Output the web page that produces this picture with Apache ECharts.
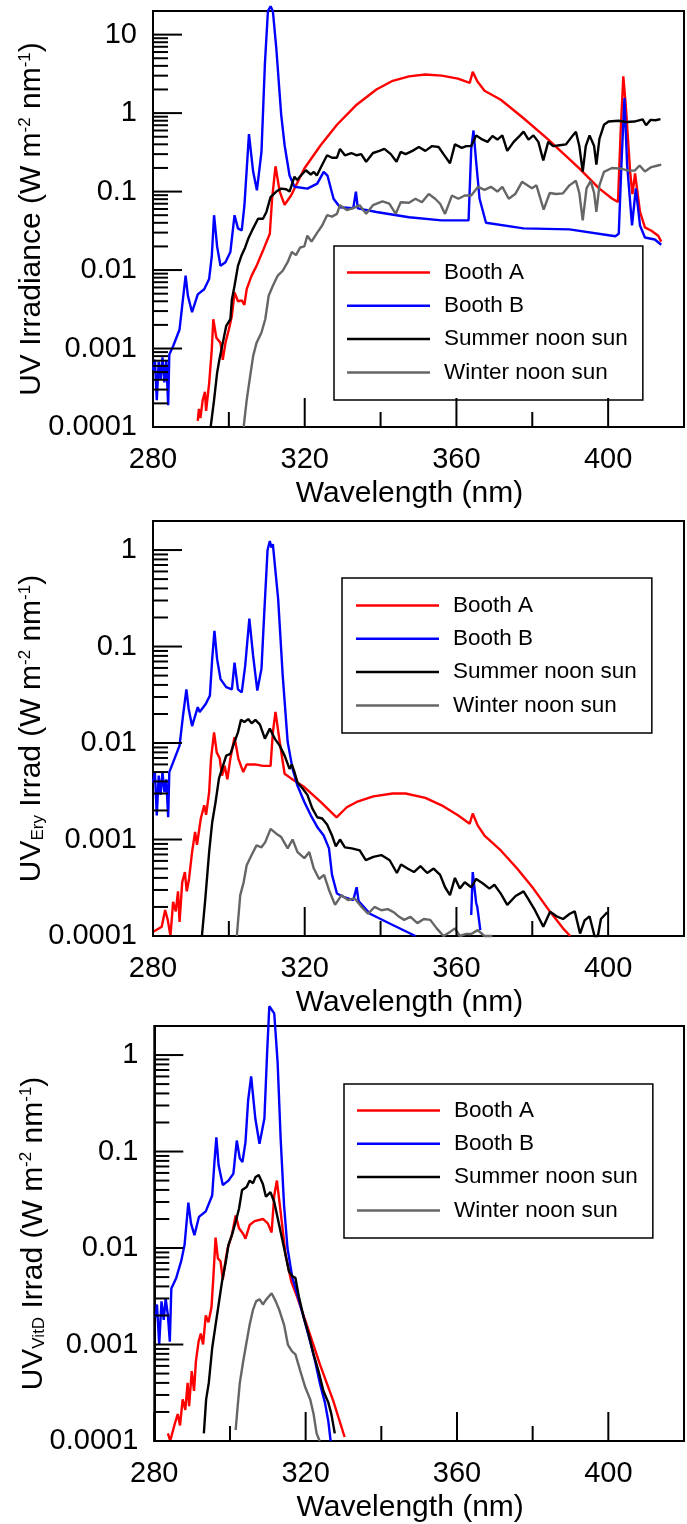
<!DOCTYPE html>
<html>
<head>
<meta charset="utf-8">
<script src="https://cdn.jsdelivr.net/npm/echarts@6/dist/echarts.min.js"></script>
<style>html,body{margin:0;padding:0;background:#fff}#c{width:687px;height:1524px}</style>
</head>
<body>
<div id="c"></div>
<script>
// ---------- data: [wavelength nm, irradiance] ----------
const seriesNames = ['Booth A', 'Booth B', 'Summer noon sun', 'Winter noon sun'];
const xMajorTicks = [280, 320, 360, 400];
const xMinorTicks = [300, 340, 380];
const yDecades = [-4, -3, -2, -1, 0, 1];

// Panel 1: UV irradiance
const p1BoothA = [[291.8,1.2e-4],[292.1,1.7e-4],[292.5,1.3e-4],[293.1,2.2e-4],[293.7,2.8e-4],[294.0,1.6e-4],[294.8,3.6e-4],[295.5,9.7e-4],[295.9,2.36e-3],[296.7,1.37e-3],[297.8,1.18e-3],[298.4,7.2e-4],[299.1,1.18e-3],[300.0,1.75e-3],[300.8,2.6e-3],[301.5,5.2e-3],[302.4,4.0e-3],[303.4,4.1e-3],[304.1,3.6e-3],[304.7,5.7e-3],[306.0,8.5e-3],[307.3,0.0113],[309.0,0.0177],[310.8,0.029],[311.4,0.081],[312.3,0.21],[313.4,0.10],[314.7,0.068],[316.4,0.089],[319.9,0.197],[324.2,0.39],[328.5,0.71],[333.7,1.28],[338.9,2.0],[343.2,2.58],[347.5,2.94],[351.8,3.1],[356.1,3.0],[360.4,2.75],[363.5,2.43],[364.3,3.35],[365.5,2.54],[367.4,1.93],[371.7,1.48],[377.7,0.86],[383.8,0.48],[392.4,0.197],[397.6,0.11],[401.1,0.081],[402.6,0.074],[403.3,0.59],[404.0,2.94],[404.7,1.16],[405.8,0.178],[406.4,0.093],[407.1,0.17],[408.4,0.055],[409.7,0.035],[411.4,0.0317],[413.2,0.0274],[414.0,0.023]];
const p1BoothB = [[280,5.3e-4],[280.5,7.2e-4],[281,2.2e-4],[281.5,6.8e-4],[282,4.0e-4],[282.5,7.7e-4],[283,3.7e-4],[283.5,7e-4],[284,1.9e-4],[284.3,8.4e-4],[285.3,1.07e-3],[287,1.75e-3],[287.9,4.3e-3],[288.6,8.5e-3],[289.2,4.7e-3],[290.3,2.9e-3],[291.8,4.9e-3],[292.1,4.7e-3],[293.5,5.7e-3],[294.8,7.7e-3],[295.5,0.015],[296.1,0.050],[296.9,0.020],[297.8,0.0113],[299.1,0.0126],[300.4,0.017],[301.5,0.050],[302.4,0.034],[303.4,0.032],[304.1,0.066],[305.3,0.54],[306.4,0.18],[307.4,0.104],[308.6,0.32],[309.5,4.2],[310.3,20],[311,23],[311.6,20],[312.5,6.8],[313.8,0.95],[314.7,0.39],[316,0.16],[317.3,0.115],[320.7,0.109],[323.3,0.126],[325,0.178],[326,0.16],[327.6,0.081],[329.3,0.063],[332.8,0.0615],[333.5,0.10],[334,0.061],[338.9,0.055],[347.5,0.047],[356.1,0.043],[363.2,0.043],[363.9,0.35],[364.5,0.60],[365.2,0.24],[366.1,0.081],[367.8,0.040],[377.7,0.034],[389.8,0.033],[401.9,0.027],[402.8,0.029],[403.5,0.22],[404.3,1.55],[405.0,0.22],[406.3,0.037],[407.3,0.11],[408.4,0.037],[409.7,0.026],[412.3,0.0245],[414.0,0.021]];
const p1Summer = [[295.2,1e-4],[296.1,2.2e-4],[296.9,4.9e-4],[297.5,7.2e-4],[298.4,1.18e-3],[299.3,1.94e-3],[300.4,2.36e-3],[300.8,4.2e-3],[301.5,6.3e-3],[302.4,0.0113],[303.3,0.0152],[304.3,0.0194],[305.1,0.025],[306.4,0.034],[307.7,0.045],[309,0.045],[309.9,0.055],[311,0.085],[312.5,0.10],[313.8,0.109],[315.1,0.107],[316,0.10],[317.3,0.155],[318,0.14],[319,0.16],[320.3,0.187],[321.6,0.165],[322.4,0.178],[323.2,0.16],[324.6,0.22],[325.9,0.29],[327.2,0.27],[328.5,0.27],[329.3,0.35],[330.6,0.29],[332.3,0.31],[333.7,0.29],[334.9,0.30],[336.2,0.24],[338,0.31],[339.7,0.33],[341,0.35],[342.7,0.30],[344.2,0.24],[345.3,0.32],[346.6,0.30],[348.4,0.33],[350.1,0.37],[351.8,0.33],[353.6,0.38],[355.3,0.37],[356.6,0.30],[358.3,0.23],[359.6,0.40],[361.4,0.36],[362.6,0.38],[363.9,0.38],[365.2,0.52],[366.5,0.47],[368.2,0.43],[369.5,0.51],[370.8,0.46],[372.1,0.52],[373.4,0.33],[375.1,0.43],[376.8,0.52],[377.7,0.58],[379.0,0.46],[380.3,0.52],[381.6,0.43],[382.9,0.25],[384.2,0.43],[385.5,0.38],[387.2,0.39],[388.9,0.40],[390.7,0.52],[391.5,0.58],[392.4,0.38],[393.3,0.18],[394.1,0.38],[395.1,0.52],[396.3,0.38],[396.9,0.22],[397.7,0.47],[398.9,0.71],[400.1,0.78],[402.7,0.80],[404.8,0.77],[406.9,0.78],[409.1,0.83],[410.0,0.70],[411.2,0.82],[412.5,0.81],[413.8,0.84]];
const p1Winter = [[303.9,1e-4],[304.7,2.2e-4],[305.6,4.4e-4],[306.4,8e-4],[307.3,1.18e-3],[308.6,1.6e-3],[309.6,2.36e-3],[310.5,4.7e-3],[311.6,6.3e-3],[312.9,8.5e-3],[314.2,9.8e-3],[315.5,0.0126],[316.6,0.017],[317.7,0.0155],[318.8,0.0194],[319.9,0.020],[320.7,0.0274],[321.8,0.023],[323.3,0.030],[324.6,0.037],[325.9,0.05],[327.2,0.048],[328.5,0.052],[329.3,0.067],[331.1,0.058],[332.8,0.0615],[334.5,0.067],[336.2,0.052],[338,0.067],[340.5,0.075],[342.3,0.07],[344,0.052],[345.3,0.073],[347.5,0.072],[349.2,0.081],[350.9,0.073],[352.7,0.093],[354.4,0.081],[355.7,0.07],[357,0.052],[358.8,0.089],[360.5,0.081],[362.2,0.089],[363.9,0.089],[365.7,0.115],[367.4,0.105],[369.1,0.115],[370.8,0.10],[372.1,0.115],[373.8,0.081],[375.5,0.093],[377.3,0.133],[379.9,0.11],[381.1,0.12],[383.0,0.059],[384.6,0.096],[386.3,0.093],[388.1,0.095],[389.8,0.12],[391.5,0.137],[392.4,0.096],[393.3,0.043],[394.3,0.11],[395.4,0.137],[396.3,0.096],[396.9,0.055],[397.7,0.12],[398.9,0.178],[401.0,0.20],[403.6,0.195],[405.3,0.185],[407.0,0.185],[408.3,0.215],[409.7,0.18],[411.4,0.205],[413.1,0.215],[414.0,0.22]];

// Panel 2: erythemally weighted
const p2BoothA = [[280,1.1e-4],[282.3,1.25e-4],[283.2,1.86e-4],[283.9,1.46e-4],[284.6,1.0e-4],[285.3,2.26e-4],[286,1.8e-4],[286.6,2.9e-4],[287.0,1.4e-4],[287.7,3.6e-4],[288.4,4.6e-4],[288.9,2.9e-4],[289.5,3.9e-4],[290.3,7.4e-4],[291.1,1.2e-3],[291.6,8.8e-4],[292.6,1.65e-3],[293.5,2.26e-3],[294.0,1.8e-3],[294.8,3.1e-3],[295.3,6.9e-3],[296.1,0.0129],[296.8,8.0e-3],[297.6,6.9e-3],[298.2,4.6e-3],[298.9,5.8e-3],[299.6,4.2e-3],[300.4,6.9e-3],[301.5,0.0115],[302.5,6.9e-3],[303.8,5.0e-3],[304.7,6.0e-3],[306.9,6.0e-3],[309.0,5.8e-3],[311.0,5.8e-3],[311.6,0.0129],[312.3,0.021],[313.4,0.0103],[314.7,4.8e-3],[316.4,4.3e-3],[319.9,3.5e-3],[324.2,2.45e-3],[328.4,1.7e-3],[331.1,2.16e-3],[333.7,2.45e-3],[338.1,2.8e-3],[343.2,3.0e-3],[346.6,3.0e-3],[351.8,2.7e-3],[356.1,2.26e-3],[360.4,1.78e-3],[363.5,1.46e-3],[364.3,1.86e-3],[365.6,1.4e-3],[367.4,1.1e-3],[371.7,7.7e-4],[376.0,5.0e-4],[380.3,3.1e-4],[384.7,1.78e-4],[388.1,1.2e-4],[390.0,1e-4]];
const p2BoothB = [[280,3.9e-3],[280.5,5.0e-3],[281,1.78e-3],[281.5,4.6e-3],[282,2.9e-3],[282.5,5.0e-3],[283,3.1e-3],[283.5,4.2e-3],[284,1.7e-3],[284.3,5e-3],[285.3,6.3e-3],[287,9.4e-3],[287.9,0.019],[288.8,0.036],[289.4,0.0227],[290.3,0.015],[291.8,0.0235],[292.3,0.021],[293.9,0.0254],[295,0.031],[295.6,0.074],[296.2,0.145],[296.9,0.074],[297.8,0.046],[299.3,0.038],[300.8,0.036],[301.5,0.068],[302.4,0.036],[303.4,0.0335],[304.3,0.063],[305.4,0.195],[306.4,0.080],[307.5,0.035],[308.6,0.059],[309.3,0.21],[310.2,1.0],[310.8,1.24],[311.2,1.06],[311.6,1.15],[313.0,0.31],[314.2,0.050],[315.5,0.0103],[316.8,5.4e-3],[318.1,3.6e-3],[319.9,2.45e-3],[321.6,1.78e-3],[323.3,1.35e-3],[325,1.1e-3],[326.4,8.1e-4],[327.2,4.3e-4],[328.5,2.76e-4],[330.2,2.55e-4],[332.8,2.36e-4],[333.7,3.2e-4],[334.2,2.3e-4],[337.2,1.7e-4],[343.2,1.3e-4],[349.2,1e-4],[356,null],[363.9,1.65e-4],[364.3,4.6e-4],[364.7,4.5e-4],[365.2,2.2e-4],[365.5,2e-4],[366.3,1.15e-4]];
const p2Summer = [[292.9,1e-4],[293.8,2.45e-4],[294.8,7.4e-4],[295.6,1.5e-3],[296.5,2.45e-3],[297.4,4.3e-3],[298.2,5.4e-3],[299.3,7.4e-3],[300.4,7.7e-3],[301.5,0.0103],[302.4,0.0129],[303.2,0.0174],[304.1,0.0165],[305.1,0.0177],[306.0,0.016],[307.0,0.0174],[308.2,0.0155],[309.5,0.0111],[310.8,0.0141],[312.1,0.0111],[313.4,9.4e-3],[314.7,7.4e-3],[316.0,5.4e-3],[316.6,6.0e-3],[317.3,5.0e-3],[318.1,3.9e-3],[319.4,3.4e-3],[320.7,2.9e-3],[322.0,2.1e-3],[323.3,1.7e-3],[324.6,1.65e-3],[325.9,1.43e-3],[327.2,1.1e-3],[328.2,8.5e-4],[329.3,1.0e-3],[330.6,8.3e-4],[332.4,8.1e-4],[334.5,7.7e-4],[336.1,6.1e-4],[338.1,6.6e-4],[340.2,6.9e-4],[342.4,6.1e-4],[344.3,4.5e-4],[345.4,5.5e-4],[347.1,5.0e-4],[348.8,4.6e-4],[350.5,5.3e-4],[352.3,4.5e-4],[354.0,5.0e-4],[355.7,4.3e-4],[357.0,3.2e-4],[358.3,2.65e-4],[359.6,4.0e-4],[360.9,3.1e-4],[362.2,3.6e-4],[363.9,3.2e-4],[365.2,3.9e-4],[367.0,3.5e-4],[368.7,3.1e-4],[370.0,3.4e-4],[371.7,2.75e-4],[373.4,2.1e-4],[375.6,2.6e-4],[377.7,2.9e-4],[379.0,2.4e-4],[380.7,1.85e-4],[382.9,1.25e-4],[384.7,1.78e-4],[386.4,1.6e-4],[388.1,1.5e-4],[389.9,1.7e-4],[391.2,1.8e-4],[392.6,1.06e-4],[393.8,1.45e-4],[395.1,1.6e-4],[396.4,1.0e-4],[397.3,1.0e-4],[398.1,1.5e-4],[399.4,1.7e-4],[399.8,1.75e-4]];
const p2Winter = [[302.1,1e-4],[303.0,2.65e-4],[303.9,3.6e-4],[304.7,5.4e-4],[306.0,6.9e-4],[307.3,8.7e-4],[308.6,8.3e-4],[309.6,9.4e-4],[311.0,1.29e-3],[312.5,1.15e-3],[313.8,1.06e-3],[315.5,8.1e-4],[316.8,1.0e-3],[318.1,7.4e-4],[319.9,6.4e-4],[321.2,7.4e-4],[322.4,5.0e-4],[323.8,3.9e-4],[325.1,4.3e-4],[326.4,3.0e-4],[328.0,2.1e-4],[329.7,2.65e-4],[331.4,2.36e-4],[333.2,2.45e-4],[335,2.0e-4],[336.7,1.7e-4],[338.4,2.0e-4],[340.2,1.85e-4],[341.9,1.9e-4],[343.6,1.75e-4],[344.9,1.58e-4],[346.2,1.47e-4],[347.9,1.58e-4],[349.7,1.36e-4],[351.4,1.5e-4],[353.1,1.47e-4],[354.8,1.2e-4],[356.6,1.0e-4],[358.3,1.1e-4],[359.6,1.2e-4],[360.9,1.0e-4],[362.6,1.05e-4],[363.9,1.05e-4],[365.6,1.15e-4],[367.4,1.0e-4],[369.5,1e-4]];

// Panel 3: vitamin-D weighted
const p3BoothA = [[283.6,1.2e-4],[284.2,1e-4],[285.4,1.5e-4],[286.2,1.9e-4],[286.8,1.45e-4],[287.5,2.7e-4],[288.2,2.1e-4],[288.8,4.0e-4],[289.2,2.3e-4],[289.9,5.3e-4],[290.5,3.3e-4],[291.0,6.7e-4],[291.7,1.07e-3],[292.3,1.3e-3],[292.9,1.0e-3],[293.6,2.0e-3],[294.3,1.7e-3],[295.1,2.4e-3],[295.6,4.9e-3],[296.2,0.0128],[296.8,7.8e-3],[297.5,7.3e-3],[298.1,4.7e-3],[298.8,7.3e-3],[299.4,0.01],[300.5,0.0136],[301.5,0.0218],[302.4,0.016],[303.5,0.014],[304.1,0.0125],[305.2,0.0173],[306.5,0.019],[308.7,0.02],[310.0,0.018],[311.0,0.0145],[311.7,0.035],[312.4,0.050],[313.4,0.0235],[314.7,8.5e-3],[316.2,4.5e-3],[317.7,3.15e-3],[320.3,1.6e-3],[323.8,6.2e-4],[327.3,2.6e-4],[330.3,1.1e-4]];
const p3BoothB = [[280.4,1.9e-3],[280.7,2.6e-3],[281.3,1e-3],[281.9,2.8e-3],[282.5,1.8e-3],[283,3.0e-3],[283.6,2.0e-3],[284.1,1.07e-3],[284.5,3.8e-3],[285.8,4.9e-3],[287.1,7.3e-3],[288.0,0.0108],[289.0,0.0295],[289.7,0.018],[290.6,0.0136],[291.8,0.021],[293.6,0.024],[295.3,0.035],[295.9,0.078],[296.4,0.14],[297,0.072],[298.1,0.045],[299.6,0.05],[300.9,0.059],[301.8,0.13],[302.6,0.085],[303.3,0.078],[304.1,0.125],[304.8,0.34],[305.6,0.60],[306.7,0.22],[307.8,0.12],[309.1,0.22],[309.8,1.02],[310.4,3.2],[310.8,3.3],[311.7,2.7],[312.6,0.83],[313.4,0.135],[314.3,0.0275],[315.2,0.01],[316.5,4.9e-3],[317.8,3.3e-3],[319.5,1.9e-3],[321.2,1.07e-3],[322.5,6.7e-4],[323.8,3.9e-4],[325.1,2.5e-4],[326,1.6e-4],[326.6,1e-4]];
const p3Summer = [[293.1,1.2e-4],[293.7,2.7e-4],[294.4,4.0e-4],[295.3,9.2e-4],[296.2,1.6e-3],[297.0,2.6e-3],[297.9,4.5e-3],[298.9,7.2e-3],[299.6,0.0108],[300.5,0.0136],[301.5,0.0186],[302.4,0.0257],[303.2,0.040],[304.4,0.043],[305.2,0.050],[306.1,0.047],[306.7,0.054],[307.6,0.057],[308.7,0.046],[309.5,0.034],[310.7,0.038],[311.7,0.030],[313.0,0.0173],[314.3,0.01],[315.6,5.7e-3],[316.5,5.1e-3],[317.3,4.9e-3],[318.2,3.15e-3],[319.5,1.9e-3],[320.8,1.27e-3],[322.1,7.9e-4],[323.4,5.3e-4],[324.7,3.3e-4],[326.0,2.5e-4],[326.8,1.9e-4],[327.7,1.2e-4]];
const p3Winter = [[301.5,1.3e-4],[302.0,2.2e-4],[302.6,4.0e-4],[303.5,6.7e-4],[304.4,1.07e-3],[305.2,1.6e-3],[306.1,2.3e-3],[306.9,2.8e-3],[307.8,2.95e-3],[308.7,2.6e-3],[309.5,2.9e-3],[311.0,3.4e-3],[312.1,2.8e-3],[313.0,2.3e-3],[314.3,1.6e-3],[315.3,1.0e-3],[316.4,8.5e-4],[317.3,7.9e-4],[318.6,5.3e-4],[319.9,3.6e-4],[321.2,2.7e-4],[322.1,1.9e-4],[322.9,1.2e-4],[323.7,1e-4]];

// ---------- layout / style ----------
const FONT = "'Liberation Sans', Arial, Helvetica, sans-serif";
const COLORS = ['#ff0000', '#0000ff', '#000000', '#666666'];
const panels = [
  { left: 153, top: 11, width: 540, height: 416, ymax: 20,
    yname: 'UV Irradiance (W m{sup|-2} nm{sup|-1})',
    data: [p1BoothA, p1BoothB, p1Summer, p1Winter],
    legend: { left: 334, top: 246, padding: [15, 15, 16, 13] } },
  { left: 153, top: 521, width: 540, height: 415, ymax: 2,
    yname: 'UV{sub|Ery} Irrad (W m{sup|-2} nm{sup|-1})',
    data: [p2BoothA, p2BoothB, p2Summer, p2Winter],
    legend: { left: 342, top: 578, padding: [16, 15, 16, 14] } },
  { left: 154.3, top: 1026, width: 540.4, height: 416, ymax: 2,
    yname: 'UV{sub|VitD} Irrad (W m{sup|-2} nm{sup|-1})',
    data: [p3BoothA, p3BoothB, p3Summer, p3Winter],
    legend: { left: 344, top: 1084, padding: [15, 15, 16, 13] } }
];

function isDecade(v) {
  const l = Math.log10(v);
  return Math.abs(l - Math.round(l)) < 1e-6;
}

const option = {
  animation: false,
  backgroundColor: '#fff',
  grid: [], xAxis: [], yAxis: [], series: [], legend: []
};

panels.forEach((p, i) => {
  option.grid.push({ left: p.left, top: p.top, width: p.width, height: p.height,
    show: true, borderColor: '#000', borderWidth: 2, containLabel: false });
  option.xAxis.push({
    type: 'value', gridIndex: i, min: 280, max: 420, interval: 40,
    axisLine: { show: true, onZero: false, lineStyle: { color: '#000', width: 2 } },
    axisTick: { show: false }, splitLine: { show: false },
    axisLabel: { fontSize: 29, fontFamily: FONT, color: '#000', margin: 18,
      formatter: v => (xMajorTicks.indexOf(Math.round(v)) >= 0 ? String(Math.round(v)) : '') },
    name: 'Wavelength (nm)', nameLocation: 'middle', nameGap: 52, nameMoveOverlap: false,
    nameTextStyle: { fontSize: 30, fontFamily: FONT, color: '#000', padding: [0, 18, 0, 0] }
  });
  option.yAxis.push({
    type: 'log', logBase: 10, gridIndex: i, min: 1e-4, max: p.ymax,
    axisLine: { show: true, lineStyle: { color: '#000', width: 2 } },
    axisTick: { show: false }, splitLine: { show: false },
    axisLabel: { fontSize: 29, fontFamily: FONT, color: '#000', margin: 16,
      formatter: v => (isDecade(v) ? String(+v.toPrecision(3)) : '') },
    name: p.yname, nameLocation: 'middle', nameRotate: 90, nameGap: 106, nameMoveOverlap: false,
    nameTextStyle: { fontSize: 30, fontFamily: FONT, color: '#000',
      rich: {
        sup: { fontSize: 17, fontFamily: FONT, color: '#000', verticalAlign: 'top' },
        sub: { fontSize: 17, fontFamily: FONT, color: '#000', verticalAlign: 'bottom' }
      } }
  });
  p.data.forEach((d, k) => {
    option.series.push({
      type: 'line', name: seriesNames[k], xAxisIndex: i, yAxisIndex: i,
      data: d.map(pt => [pt[0], pt[1] == null ? '-' : pt[1]]),
      symbol: 'none', showSymbol: false, clip: false, connectNulls: false,
      lineStyle: { color: COLORS[k], width: 2.4 }, itemStyle: { color: COLORS[k] },
      z: 2 + k * 0.01
    });
  });
  // axis ticks (inside), drawn through the axes' own scales
  const tickData = [];
  yDecades.forEach(d => {
    const base = Math.pow(10, d);
    if (base <= p.ymax * 0.999) tickData.push([280, base, 0]);
    for (let m = 2; m <= 9; m++) {
      const v = m * base;
      if (v < p.ymax * 0.999) tickData.push([280, v, 1]);
    }
  });
  xMajorTicks.forEach(x => tickData.push([x, 1e-4, 2]));
  xMinorTicks.forEach(x => tickData.push([x, 1e-4, 3]));
  option.series.push({
    type: 'custom', name: 'ticks', xAxisIndex: i, yAxisIndex: i, silent: true, z: 5,
    data: tickData,
    renderItem: (params, api) => {
      const kind = api.value(2);
      const pt = api.coord([api.value(0), api.value(1)]);
      let shape;
      if (kind < 2) {
        const len = kind === 0 ? 29 : 15;
        shape = { x1: pt[0], y1: pt[1], x2: pt[0] + len, y2: pt[1] };
      } else {
        const len = kind === 2 ? 29 : 15;
        shape = { x1: pt[0], y1: pt[1], x2: pt[0], y2: pt[1] - len };
      }
      return { type: 'line', shape, style: { stroke: '#000', lineWidth: 2 } };
    }
  });
  option.legend.push({
    left: p.legend.left, top: p.legend.top, orient: 'vertical',
    padding: p.legend.padding, borderColor: '#000', borderWidth: 1.5,
    backgroundColor: '#fff', icon: 'rect',
    itemWidth: 83, itemHeight: 2.5, itemGap: 10.3, selectedMode: false,
    data: seriesNames,
    textStyle: { fontSize: 22.5, lineHeight: 22, fontFamily: FONT, color: '#000', padding: [0, 0, 0, 9] }
  });
});

const chart = echarts.init(document.getElementById('c'), null, { renderer: 'canvas' });
chart.setOption(option);
</script>
</body>
</html>
